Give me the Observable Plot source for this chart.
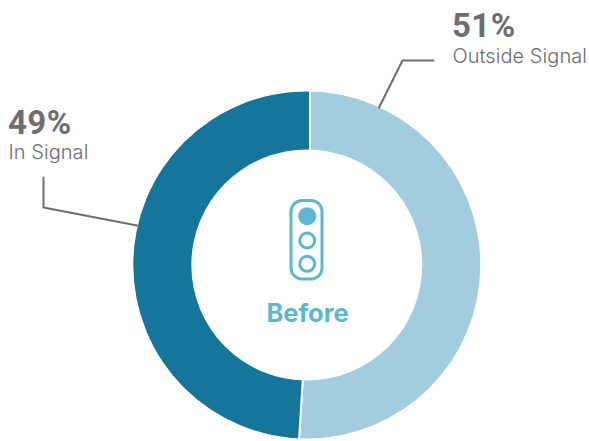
<!DOCTYPE html>
<html>
<head>
<meta charset="utf-8">
<script src="https://cdn.jsdelivr.net/npm/d3@7"></script>
<script src="https://cdn.jsdelivr.net/npm/@observablehq/plot@0.6"></script>
<style>
  html, body { margin: 0; padding: 0; background: #fff; }
  svg { display: block; }
  .name-label text, .name-label { letter-spacing: 0.05px; }
  .percent-label text, .percent-label { letter-spacing: 0.4px; }
</style>
</head>
<body>
<div id="chart"></div>
<script>
// Share of time inside and outside the signal window
const segments = ["Outside Signal", "In Signal"];
const shares = [51, 49];
const segmentColors = ["#a2cddf", "#15759a"];
const centerLabel = "Before";

const WIDTH = 589, HEIGHT = 441;
const INK = "#6d6e70", ACCENT = "#5ab8d3";
const FONT = "Inter, Lato, sans-serif";

// Ring geometry; the wedges fan out from a hub just right of the ring's centre
const ring = {cx: 306.8, cy: 265, outer: 173.5, inner: 115.5};
const hub = {x: 310, y: 265};

const slices = d3.pie().sort(null).value((d) => d.share)(
  segments.map((name, i) => ({name, share: shares[i], color: segmentColors[i]}))
);

// Point on the outer edge of the ring, part-way through a slice
const rimPoint = (slice, t) => {
  const a = slice.startAngle + (slice.endAngle - slice.startAngle) * t;
  return [ring.cx + ring.outer * Math.sin(a), ring.cy - ring.outer * Math.cos(a)];
};

// Leader lines run from the rim through an elbow to the label
const leaders = [
  {slice: 0, t: 0.133, elbow: [402, 60], end: [433, 60]},
  {slice: 1, t: 0.565, elbow: [43, 207], end: [43, 177]}
].flatMap(({slice, t, elbow, end}) => {
  const [x, y] = rimPoint(slices[slice], t);
  return [[x, y], elbow, end].map(([px, py]) => ({x: px, y: py, key: slice}));
});

const percentLabels = [
  {x: 451.5, y: 36, text: `${shares[0]}%`},
  {x: 7.5, y: 133, text: `${shares[1]}%`}
];
const nameLabels = [
  {x: 452, y: 62, text: segments[0]},
  {x: 8, y: 158, text: segments[1]}
];

// Plot has no pie mark, so the ring is a custom mark positioned by the x and y scales
function donut(index, {x, y}) {
  const g = d3.create("svg:g");
  const clipId = "ring-clip";
  const outer = d3.arc().innerRadius(ring.inner).outerRadius(ring.outer)
    .startAngle(0).endAngle(2 * Math.PI)();
  g.append("clipPath").attr("id", clipId).append("path")
    .attr("transform", `translate(${x(ring.cx)},${y(ring.cy)})`)
    .attr("d", outer)
    .attr("clip-rule", "evenodd");
  const wedge = d3.arc().innerRadius(0).outerRadius(HEIGHT);
  g.append("g").attr("clip-path", `url(#${clipId})`)
    .selectAll("path").data(slices).join("path")
    .attr("transform", `translate(${x(hub.x)},${y(hub.y)})`)
    .attr("d", wedge)
    .attr("fill", (d) => d.data.color)
    .attr("stroke", "#fff")
    .attr("stroke-width", 2);
  return g.node();
}

const litLamps = [{y: 215.7}];
const dimLamps = [{y: 240}, {y: 263.3}];

const plot = Plot.plot({
  width: WIDTH,
  height: HEIGHT,
  margin: 0,
  style: {background: "#fff", fontFamily: FONT},
  x: {type: "linear", domain: [0, WIDTH], range: [0, WIDTH], axis: null},
  y: {type: "linear", domain: [0, HEIGHT], range: [0, HEIGHT], axis: null},
  marks: [
    donut,
    Plot.line(leaders, {x: "x", y: "y", z: "key", stroke: INK, strokeWidth: 2, curve: "linear"}),
    Plot.text(percentLabels, {
      x: "x", y: "y", text: "text", textAnchor: "start", lineAnchor: "bottom",
      fontSize: 33, fontWeight: 700, fill: INK, fontFamily: "Roboto, sans-serif",
      className: "percent-label"
    }),
    Plot.text(nameLabels, {
      x: "x", y: "y", text: "text", textAnchor: "start", lineAnchor: "bottom",
      fontSize: 20, fontWeight: 300, fill: INK, fontFamily: FONT,
      className: "name-label"
    }),
    // Traffic-light icon above the caption
    Plot.rect([{x1: 291, x2: 322, y1: 200.5, y2: 279}], {
      x1: "x1", x2: "x2", y1: "y1", y2: "y2",
      fill: "none", stroke: ACCENT, strokeWidth: 3, rx: 11
    }),
    Plot.dot(litLamps, {x: () => 306.7, y: "y", r: 9, fill: ACCENT}),
    Plot.dot(dimLamps, {x: () => 306.7, y: "y", r: 7.5, fill: "#fff", stroke: ACCENT, strokeWidth: 3}),
    Plot.text([centerLabel], {
      x: () => 307, y: () => 321, text: (d) => d, textAnchor: "middle", lineAnchor: "bottom",
      fontSize: 25.5, fontWeight: 700, fill: ACCENT, fontFamily: FONT
    })
  ]
});

document.getElementById("chart").append(plot);
</script>
</body>
</html>
